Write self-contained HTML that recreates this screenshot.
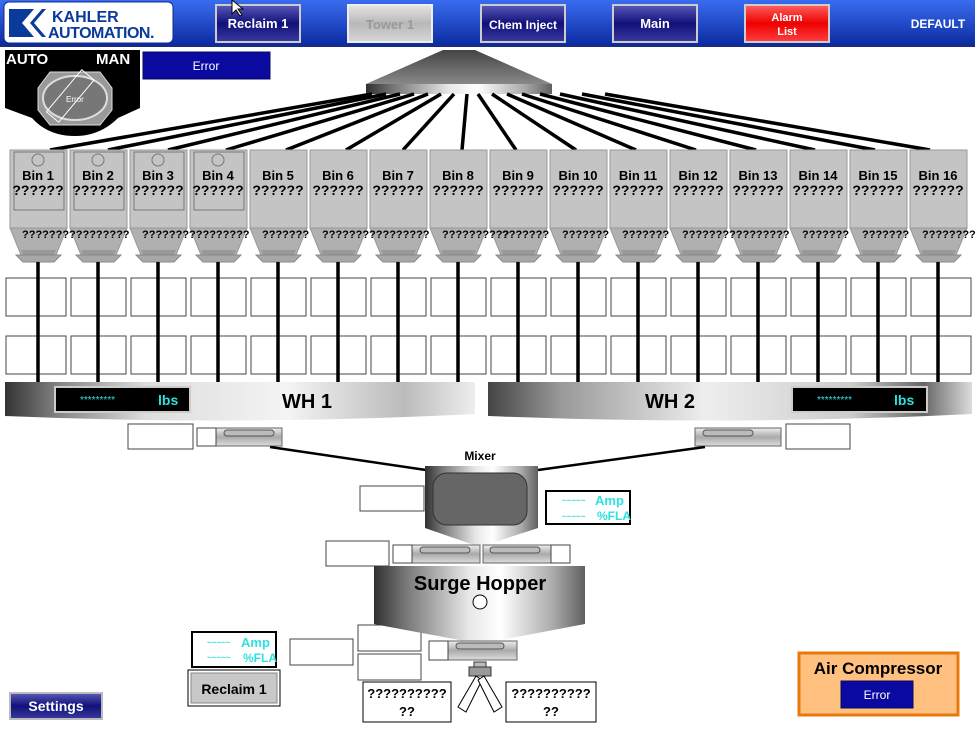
<!DOCTYPE html>
<html><head><meta charset="utf-8">
<style>
body{margin:0;width:975px;height:731px;overflow:hidden;background:#fff;font-family:"Liberation Sans",sans-serif;}
svg{display:block}
text{font-family:"Liberation Sans",sans-serif}
</style></head><body>
<svg width="975" height="731" viewBox="0 0 975 731" xmlns="http://www.w3.org/2000/svg">
<defs>
<linearGradient id="hdr" x1="0" y1="0" x2="0" y2="1"><stop offset="0" stop-color="#3a6cf0"/><stop offset="1" stop-color="#0a2aa0"/></linearGradient>
<linearGradient id="navy" x1="0" y1="0" x2="0" y2="1"><stop offset="0" stop-color="#5a5ab8"/><stop offset="0.5" stop-color="#10107a"/><stop offset="1" stop-color="#3a3aa0"/></linearGradient>
<linearGradient id="greyb" x1="0" y1="0" x2="0" y2="1"><stop offset="0" stop-color="#e4e4e4"/><stop offset="0.5" stop-color="#b8b8b8"/><stop offset="1" stop-color="#d8d8d8"/></linearGradient>
<linearGradient id="redb" x1="0" y1="0" x2="0" y2="1"><stop offset="0" stop-color="#ff6060"/><stop offset="0.5" stop-color="#ee0000"/><stop offset="1" stop-color="#ff4040"/></linearGradient>
<linearGradient id="metal" x1="0" y1="0" x2="1" y2="0"><stop offset="0" stop-color="#303030"/><stop offset="0.15" stop-color="#777"/><stop offset="0.45" stop-color="#e8e8e8"/><stop offset="0.6" stop-color="#fff"/><stop offset="0.85" stop-color="#aaa"/><stop offset="1" stop-color="#606060"/></linearGradient>
<linearGradient id="wh" x1="0" y1="0" x2="1" y2="0"><stop offset="0" stop-color="#333"/><stop offset="0.12" stop-color="#888"/><stop offset="0.3" stop-color="#ddd"/><stop offset="0.6" stop-color="#f4f4f4"/><stop offset="0.85" stop-color="#bbb"/><stop offset="1" stop-color="#eee"/></linearGradient>
<linearGradient id="wh2" x1="0" y1="0" x2="1" y2="0"><stop offset="0" stop-color="#444"/><stop offset="0.15" stop-color="#999"/><stop offset="0.45" stop-color="#eee"/><stop offset="0.75" stop-color="#ccc"/><stop offset="0.9" stop-color="#666"/><stop offset="1" stop-color="#ddd"/></linearGradient>
<linearGradient id="cone" x1="0" y1="0" x2="0" y2="1"><stop offset="0" stop-color="#444"/><stop offset="1" stop-color="#888"/></linearGradient>
<linearGradient id="conv" x1="0" y1="0" x2="0" y2="1"><stop offset="0" stop-color="#eee"/><stop offset="0.5" stop-color="#aaa"/><stop offset="1" stop-color="#ddd"/></linearGradient>
<g id="bin">
<rect x="0" y="0" width="57" height="78" fill="#c4c4c4" stroke="#999"/>
<polygon points="0,78 57,78 46,105 11,105" fill="#b0b0b0" stroke="#999"/>
<polygon points="11,100 46,100 44,105 13,105" fill="#999"/>
<polygon points="6,105 51,105 44,112 13,112" fill="#a8a8a8" stroke="#888"/>
</g>
</defs>
<!-- header -->
<rect x="0" y="0" width="975" height="46" fill="url(#hdr)"/>
<rect x="0" y="45" width="975" height="2" fill="#1a2a80"/>
<rect x="4" y="2" width="169" height="41" rx="5" fill="#fff" stroke="#0c2a90"/>
<rect x="9" y="9" width="13" height="28" fill="#0a3a9a"/>
<polygon points="22,9 34,9 22,23" fill="#0a3a9a"/><polygon points="22,23 34,37 22,37" fill="#0a3a9a"/>
<polygon points="30,23 42,9 46,9 34,23 46,37 42,37" fill="#0a3a9a"/>
<text x="52" y="22" font-size="16" fill="#0a3a9a" font-weight="bold">KAHLER</text>
<text x="48" y="38" font-size="16" fill="#0a3a9a" font-weight="bold" letter-spacing="-0.5">AUTOMATION.</text>
<g font-size="13" font-weight="bold" text-anchor="middle">
<rect x="216" y="5" width="84" height="37" fill="url(#navy)" stroke="#ccc" stroke-width="2"/><text x="258" y="28" fill="#fff">Reclaim 1</text>
<rect x="348" y="5" width="84" height="37" fill="url(#greyb)" stroke="#eee" stroke-width="2"/><text x="390" y="29" fill="#999">Tower 1</text>
<rect x="481" y="5" width="84" height="37" fill="url(#navy)" stroke="#ccc" stroke-width="2"/><text x="523" y="29" fill="#fff" font-size="12">Chem Inject</text>
<rect x="613" y="5" width="84" height="37" fill="url(#navy)" stroke="#ccc" stroke-width="2"/><text x="655" y="28" fill="#fff">Main</text>
<rect x="745" y="5" width="84" height="37" fill="url(#redb)" stroke="#ccc" stroke-width="2"/><text x="787" y="21" fill="#fff" font-size="11">Alarm</text><text x="787" y="35" fill="#fff" font-size="11">List</text>
<text x="938" y="28" fill="#fff" font-size="12">DEFAULT</text>
</g>
<!-- auto/man -->
<path d="M5,50 H140 V108 L118,118 Q100,136 75,136 Q48,136 32,118 L5,108 Z" fill="#000"/>
<text x="6" y="64" font-size="15" font-weight="bold" fill="#fff">AUTO</text>
<text x="96" y="64" font-size="15" font-weight="bold" fill="#fff">MAN</text>
<polygon points="50,72 100,72 112,88 112,110 100,125 50,125 38,110 38,88" fill="#999" stroke="#ddd"/>
<ellipse cx="75" cy="98" rx="32" ry="22" fill="#777" stroke="#ddd" stroke-width="2"/>
<rect x="62" y="72" width="16" height="55" fill="none" stroke="#fff" transform="rotate(40 75 98)"/>
<text x="66" y="102" font-size="8" fill="#fff">Error</text>
<rect x="143" y="52" width="127" height="27" fill="#0a0aa0" stroke="#0a0a60"/>
<text x="206" y="70" font-size="12" fill="#fff" text-anchor="middle">Error</text>
<!-- top hopper -->
<polygon points="443,50 475,50 552,84 366,84" fill="url(#cone)"/>
<rect x="366" y="84" width="186" height="10" fill="url(#metal)"/>
<g stroke="#000" stroke-width="3.5">
<line x1="372" y1="94" x2="50" y2="150"/><line x1="386" y1="94" x2="108" y2="150"/><line x1="400" y1="94" x2="168" y2="150"/><line x1="414" y1="94" x2="226" y2="150"/>
<line x1="428" y1="94" x2="286" y2="150"/><line x1="441" y1="94" x2="346" y2="150"/><line x1="454" y1="94" x2="403" y2="150"/><line x1="467" y1="94" x2="462" y2="150"/>
<line x1="478" y1="94" x2="516" y2="150"/><line x1="492" y1="94" x2="576" y2="150"/><line x1="507" y1="94" x2="636" y2="150"/><line x1="522" y1="94" x2="696" y2="150"/>
<line x1="540" y1="94" x2="756" y2="150"/><line x1="560" y1="94" x2="815" y2="150"/><line x1="582" y1="94" x2="875" y2="150"/><line x1="605" y1="94" x2="930" y2="150"/>
</g>
<!-- bins -->
<g id="bins">
<use href="#bin" x="10" y="150"/><use href="#bin" x="70" y="150"/><use href="#bin" x="130" y="150"/><use href="#bin" x="190" y="150"/>
<use href="#bin" x="250" y="150"/><use href="#bin" x="310" y="150"/><use href="#bin" x="370" y="150"/><use href="#bin" x="430" y="150"/>
<use href="#bin" x="490" y="150"/><use href="#bin" x="550" y="150"/><use href="#bin" x="610" y="150"/><use href="#bin" x="670" y="150"/>
<use href="#bin" x="730" y="150"/><use href="#bin" x="790" y="150"/><use href="#bin" x="850" y="150"/><use href="#bin" x="910" y="150"/>
</g>
<g fill="none" stroke="#777"><rect x="14" y="152" width="50" height="58"/><rect x="74" y="152" width="50" height="58"/><rect x="134" y="152" width="50" height="58"/><rect x="194" y="152" width="50" height="58"/>
<circle cx="38" cy="160" r="6"/><circle cx="98" cy="160" r="6"/><circle cx="158" cy="160" r="6"/><circle cx="218" cy="160" r="6"/></g>
<g font-size="13" font-weight="bold" text-anchor="middle">
<text x="38" y="180">Bin 1</text><text x="98" y="180">Bin 2</text><text x="158" y="180">Bin 3</text><text x="218" y="180">Bin 4</text>
<text x="278" y="180">Bin 5</text><text x="338" y="180">Bin 6</text><text x="398" y="180">Bin 7</text><text x="458" y="180">Bin 8</text>
<text x="518" y="180">Bin 9</text><text x="578" y="180">Bin 10</text><text x="638" y="180">Bin 11</text><text x="698" y="180">Bin 12</text>
<text x="758" y="180">Bin 13</text><text x="818" y="180">Bin 14</text><text x="878" y="180">Bin 15</text><text x="938" y="180">Bin 16</text>
</g>
<g font-size="14" font-weight="bold" text-anchor="middle">
<text x="38" y="195">??????</text><text x="98" y="195">??????</text><text x="158" y="195">??????</text><text x="218" y="195">??????</text>
<text x="278" y="195">??????</text><text x="338" y="195">??????</text><text x="398" y="195">??????</text><text x="458" y="195">??????</text>
<text x="518" y="195">??????</text><text x="578" y="195">??????</text><text x="638" y="195">??????</text><text x="698" y="195">??????</text>
<text x="758" y="195">??????</text><text x="818" y="195">??????</text><text x="878" y="195">??????</text><text x="938" y="195">??????</text>
</g>
<g font-size="11" font-weight="bold">
<text x="22" y="238">????????????????</text><text x="142" y="238">????????????????</text>
<text x="262" y="238">???????</text><text x="322" y="238">????????????????</text><text x="442" y="238">??????????</text>
<text x="502" y="238">???????</text><text x="562" y="238">???????</text><text x="622" y="238">???????</text>
<text x="682" y="238">????????????????</text><text x="802" y="238">???????</text><text x="862" y="238">???????</text><text x="922" y="238">????????</text>
</g>
<!-- boxes and stems -->
<g fill="#fff" stroke="#444">
<rect x="6" y="278" width="60" height="38"/><rect x="71" y="278" width="55" height="38"/><rect x="131" y="278" width="55" height="38"/><rect x="191" y="278" width="55" height="38"/>
<rect x="251" y="278" width="55" height="38"/><rect x="311" y="278" width="55" height="38"/><rect x="371" y="278" width="55" height="38"/><rect x="431" y="278" width="55" height="38"/>
<rect x="491" y="278" width="55" height="38"/><rect x="551" y="278" width="55" height="38"/><rect x="611" y="278" width="55" height="38"/><rect x="671" y="278" width="55" height="38"/>
<rect x="731" y="278" width="55" height="38"/><rect x="791" y="278" width="55" height="38"/><rect x="851" y="278" width="55" height="38"/><rect x="911" y="278" width="60" height="38"/>
<rect x="6" y="336" width="60" height="38"/><rect x="71" y="336" width="55" height="38"/><rect x="131" y="336" width="55" height="38"/><rect x="191" y="336" width="55" height="38"/>
<rect x="251" y="336" width="55" height="38"/><rect x="311" y="336" width="55" height="38"/><rect x="371" y="336" width="55" height="38"/><rect x="431" y="336" width="55" height="38"/>
<rect x="491" y="336" width="55" height="38"/><rect x="551" y="336" width="55" height="38"/><rect x="611" y="336" width="55" height="38"/><rect x="671" y="336" width="55" height="38"/>
<rect x="731" y="336" width="55" height="38"/><rect x="791" y="336" width="55" height="38"/><rect x="851" y="336" width="55" height="38"/><rect x="911" y="336" width="60" height="38"/>
</g>
<g stroke="#000" stroke-width="3.5">
<line x1="38" y1="262" x2="38" y2="384"/><line x1="98" y1="262" x2="98" y2="384"/><line x1="158" y1="262" x2="158" y2="384"/><line x1="218" y1="262" x2="218" y2="384"/>
<line x1="278" y1="262" x2="278" y2="384"/><line x1="338" y1="262" x2="338" y2="384"/><line x1="398" y1="262" x2="398" y2="384"/><line x1="458" y1="262" x2="458" y2="384"/>
<line x1="518" y1="262" x2="518" y2="384"/><line x1="578" y1="262" x2="578" y2="384"/><line x1="638" y1="262" x2="638" y2="384"/><line x1="698" y1="262" x2="698" y2="384"/>
<line x1="758" y1="262" x2="758" y2="384"/><line x1="818" y1="262" x2="818" y2="384"/><line x1="878" y1="262" x2="878" y2="384"/><line x1="938" y1="262" x2="938" y2="384"/>
</g>
<!-- weigh hoppers -->
<path d="M5,382 H475 V414 Q240,426 5,416 Z" fill="url(#wh)"/>
<path d="M488,382 H972 V414 Q730,426 488,416 Z" fill="url(#wh2)"/>
<rect x="55" y="387" width="135" height="25" fill="#000" stroke="#ccc" stroke-width="2"/>
<text x="80" y="403" font-size="10" fill="#30e0e0">*********</text><text x="158" y="405" font-size="14" font-weight="bold" fill="#30e0e0">lbs</text>
<rect x="792" y="387" width="135" height="25" fill="#000" stroke="#ccc" stroke-width="2"/>
<text x="817" y="403" font-size="10" fill="#30e0e0">*********</text><text x="894" y="405" font-size="14" font-weight="bold" fill="#30e0e0">lbs</text>
<text x="307" y="408" font-size="20" font-weight="bold" text-anchor="middle">WH 1</text>
<text x="670" y="408" font-size="20" font-weight="bold" text-anchor="middle">WH 2</text>
<!-- conveyors below WH -->
<g fill="#fff" stroke="#444">
<rect x="128" y="424" width="65" height="25"/><rect x="786" y="424" width="64" height="25"/>
<rect x="360" y="486" width="64" height="25"/><rect x="326" y="541" width="63" height="25"/>
<rect x="358" y="625" width="63" height="26"/><rect x="358" y="654" width="63" height="26"/><rect x="290" y="639" width="63" height="26"/>
</g>
<rect x="197" y="428" width="85" height="18" fill="url(#conv)" stroke="#666"/><rect x="197" y="428" width="19" height="18" fill="#fff" stroke="#444"/><rect x="224" y="430" width="50" height="6" rx="3" fill="#bbb" stroke="#555"/>
<rect x="695" y="428" width="86" height="18" fill="url(#conv)" stroke="#666"/><rect x="703" y="430" width="50" height="6" rx="3" fill="#bbb" stroke="#555"/>
<g stroke="#000" stroke-width="2.5"><line x1="270" y1="447" x2="426" y2="470"/><line x1="705" y1="447" x2="538" y2="470"/></g>
<!-- mixer -->
<text x="480" y="460" font-size="12" font-weight="bold" text-anchor="middle">Mixer</text>
<rect x="425" y="466" width="113" height="62" fill="url(#metal)"/>
<rect x="433" y="473" width="94" height="52" rx="14" fill="#666" stroke="#333"/>
<polygon points="425,528 538,528 486,545 474,545" fill="url(#metal)"/>
<rect x="546" y="491" width="84" height="33" fill="#fff" stroke="#000" stroke-width="2"/>
<g fill="#30e0e0" font-weight="bold"><text x="562" y="503" font-size="8">~~~~~</text><text x="562" y="519" font-size="8">~~~~~</text><text x="595" y="505" font-size="13">Amp</text><text x="597" y="520" font-size="12">%FLA</text></g>
<rect x="393" y="545" width="87" height="18" fill="url(#conv)" stroke="#666"/><rect x="393" y="545" width="19" height="18" fill="#fff" stroke="#444"/><rect x="420" y="547" width="50" height="6" rx="3" fill="#bbb" stroke="#555"/>
<rect x="483" y="545" width="87" height="18" fill="url(#conv)" stroke="#666"/><rect x="551" y="545" width="19" height="18" fill="#fff" stroke="#444"/><rect x="490" y="547" width="50" height="6" rx="3" fill="#bbb" stroke="#555"/>
<!-- surge hopper -->
<rect x="374" y="566" width="211" height="58" fill="url(#metal)"/>
<polygon points="374,624 585,624 490,642 470,642" fill="url(#metal)"/>
<text x="480" y="590" font-size="20" font-weight="bold" text-anchor="middle">Surge Hopper</text>
<circle cx="480" cy="602" r="7" fill="#fff" stroke="#000"/>
<rect x="429" y="641" width="88" height="19" fill="url(#conv)" stroke="#666"/><rect x="429" y="641" width="19" height="19" fill="#fff" stroke="#444"/><rect x="456" y="643" width="48" height="6" rx="3" fill="#bbb" stroke="#555"/>
<rect x="469" y="667" width="22" height="9" fill="#999" stroke="#333"/><rect x="474" y="662" width="12" height="5" fill="#bbb" stroke="#333"/>
<g fill="#fff" stroke="#000"><polygon points="476,676 482,680 466,712 458,707"/><polygon points="484,676 478,680 494,712 502,707"/></g>
<g fill="#fff" stroke="#000"><rect x="363" y="682" width="88" height="40"/><rect x="506" y="682" width="90" height="40"/></g>
<g font-size="13" font-weight="bold" text-anchor="middle"><text x="407" y="698">??????????</text><text x="407" y="716">??</text><text x="551" y="698">??????????</text><text x="551" y="716">??</text></g>
<!-- left bottom -->
<rect x="192" y="632" width="84" height="35" fill="#fff" stroke="#000" stroke-width="2"/>
<g fill="#30e0e0" font-weight="bold"><text x="207" y="645" font-size="8">~~~~~</text><text x="207" y="660" font-size="8">~~~~~</text><text x="241" y="647" font-size="13">Amp</text><text x="243" y="662" font-size="12">%FLA</text></g>
<rect x="188" y="670" width="92" height="36" fill="#fff" stroke="#000"/><rect x="191" y="673" width="86" height="30" fill="#c8c8c8" stroke="#888"/>
<text x="234" y="694" font-size="14" font-weight="bold" text-anchor="middle">Reclaim 1</text>
<rect x="10" y="693" width="92" height="26" fill="url(#navy)" stroke="#bbb" stroke-width="2"/>
<text x="56" y="711" font-size="14" font-weight="bold" fill="#fff" text-anchor="middle">Settings</text>
<!-- air compressor -->
<rect x="799" y="653" width="159" height="62" fill="#ffc080" stroke="#e8780c" stroke-width="3"/>
<text x="878" y="674" font-size="17" font-weight="bold" text-anchor="middle">Air Compressor</text>
<rect x="841" y="681" width="72" height="27" fill="#0a0aa0" stroke="#0a0a60"/>
<text x="877" y="699" font-size="12" fill="#fff" text-anchor="middle">Error</text>
<!-- cursor -->
<polygon points="232,0 232,14 236,10 240,16 242,15 238,9 243,9" fill="#fff" stroke="#000"/>
</svg>
</body></html>
